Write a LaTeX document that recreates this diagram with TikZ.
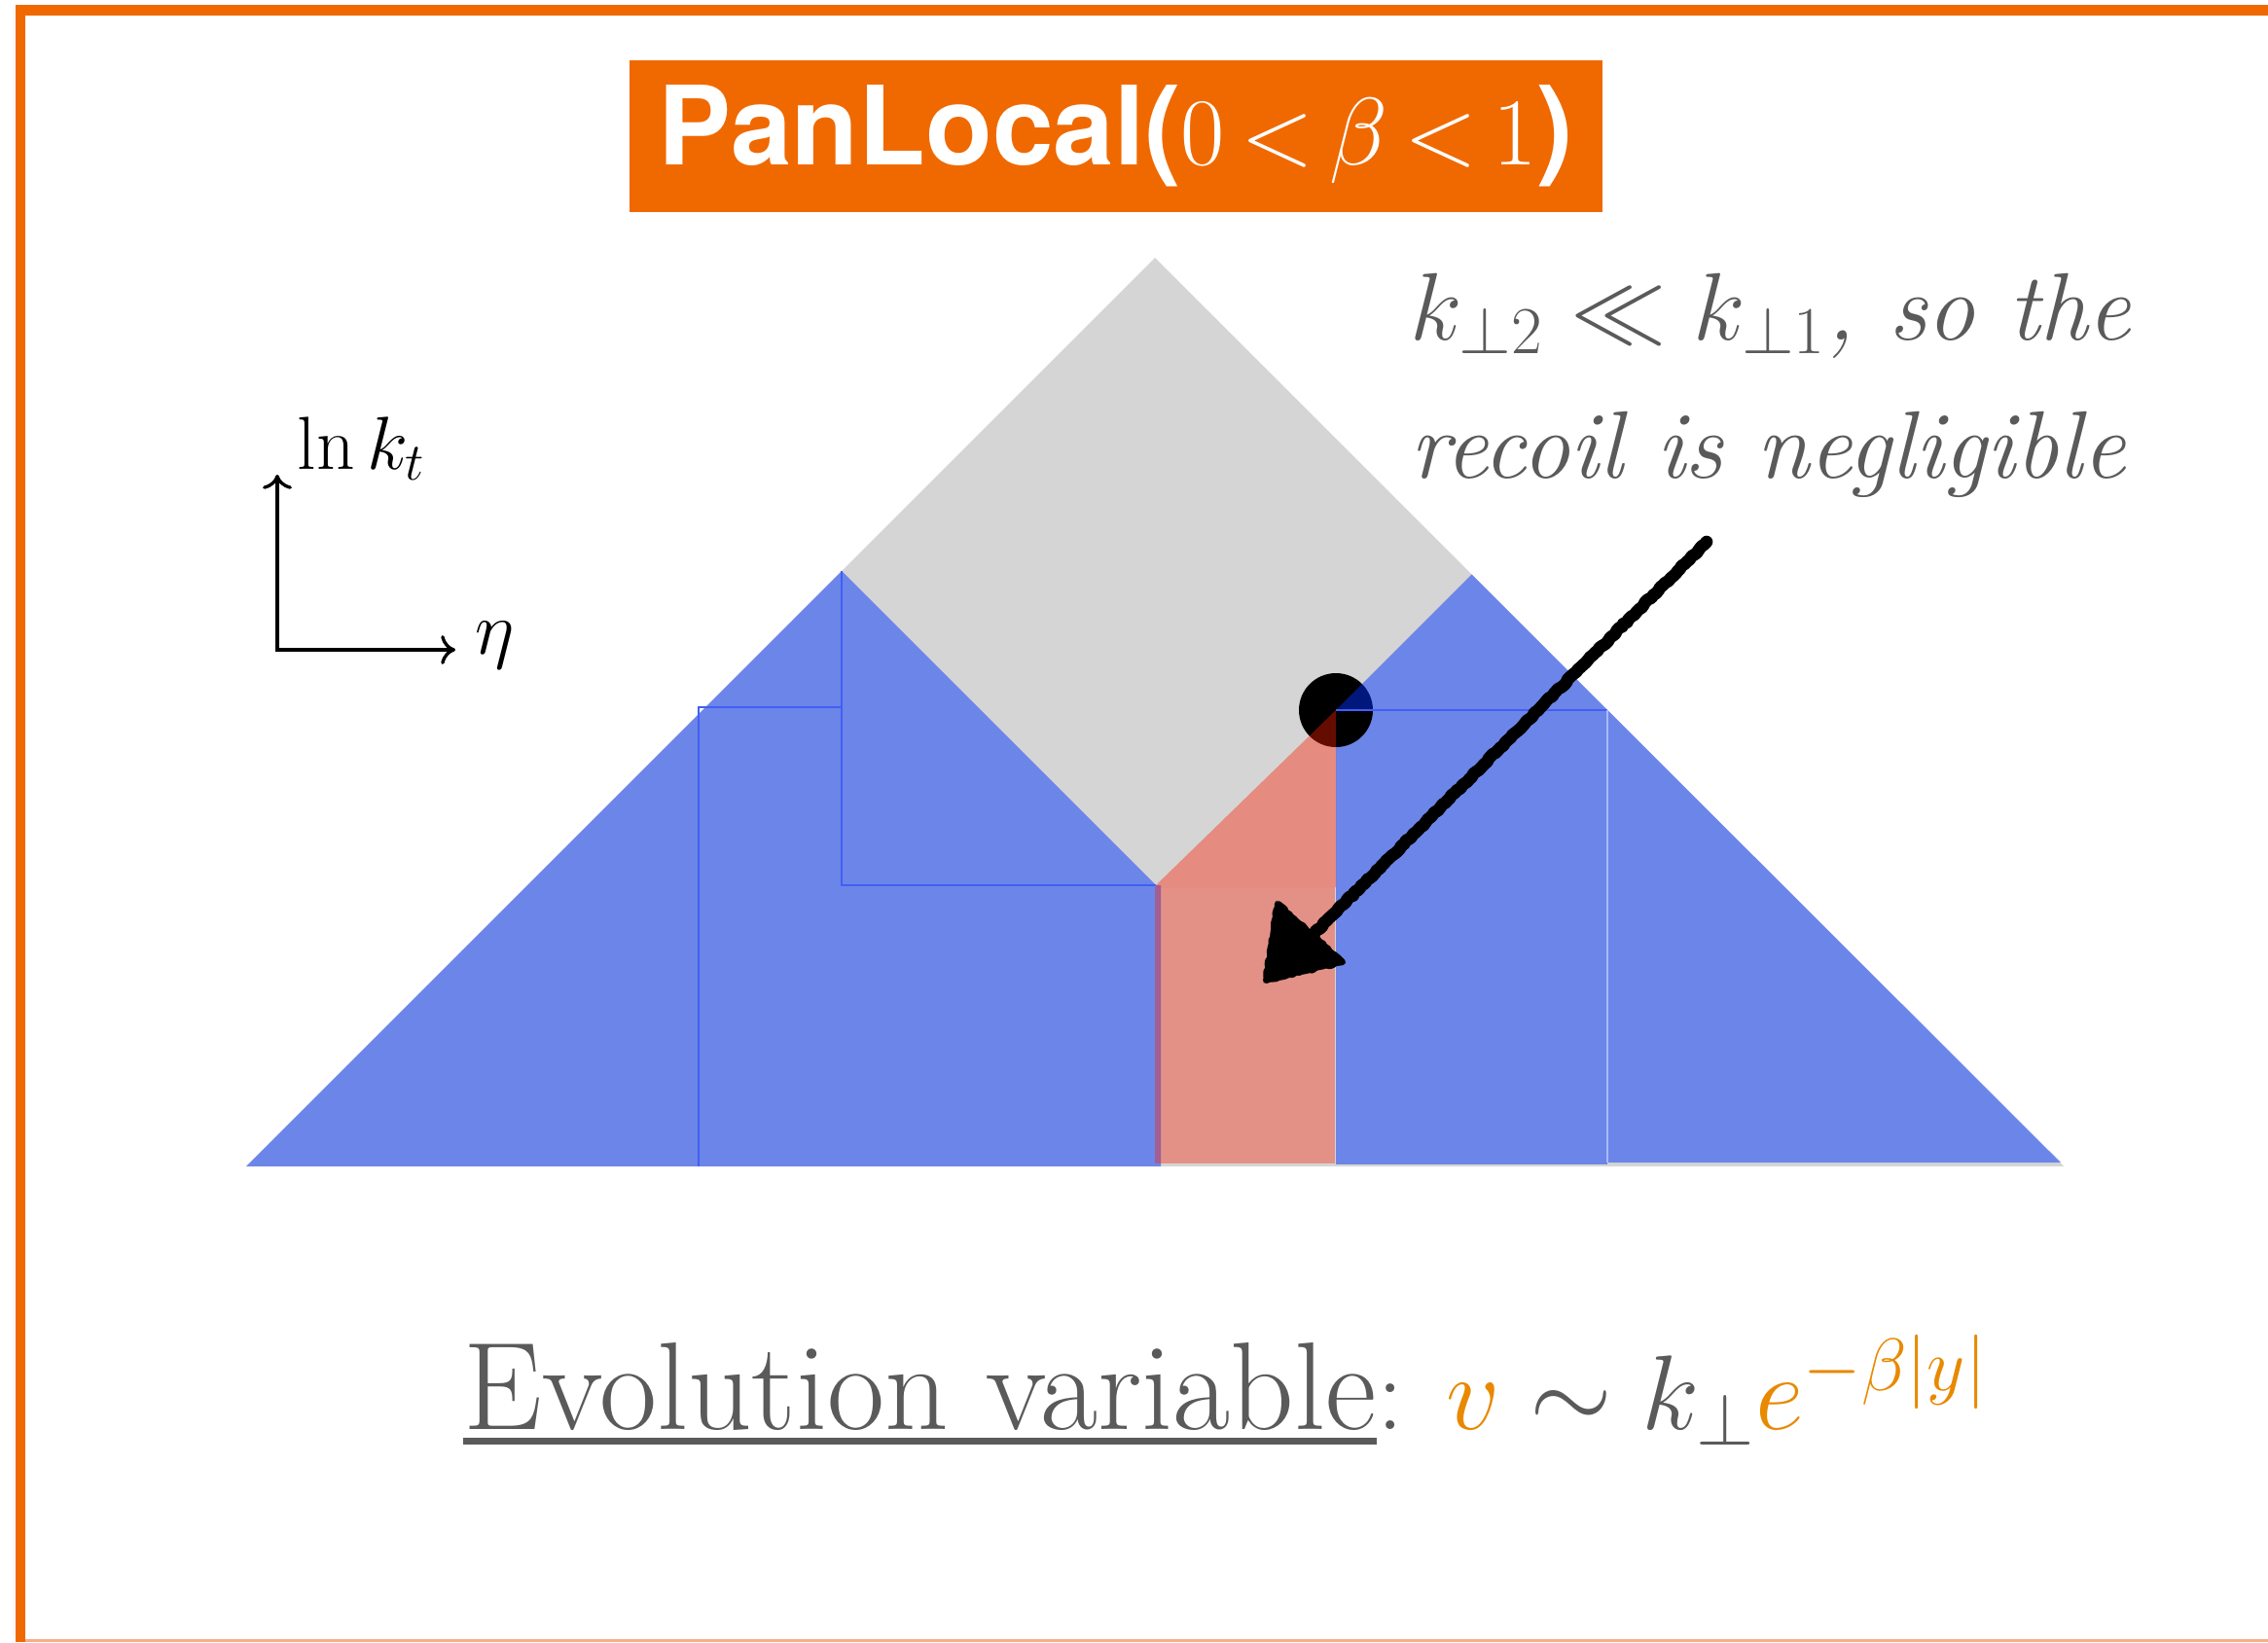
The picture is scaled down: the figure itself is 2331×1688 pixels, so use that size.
\documentclass[tikz,border=0pt]{standalone}
\usepackage{fix-cm}
\usepackage{fontspec}
\usetikzlibrary{arrows.meta,decorations.pathmorphing}
\newfontfamily\titlefont{TeX Gyre Heros}
\definecolor{panorange}{RGB}{240,105,0}
\definecolor{framelight}{RGB}{245,175,135}
\definecolor{regiongray}{RGB}{213,213,213}
\definecolor{regionblue}{RGB}{0,50,252}
\definecolor{regionred}{RGB}{253,30,0}
\definecolor{edgeblue}{RGB}{65,95,245}
\definecolor{edgelight}{RGB}{170,185,250}
\definecolor{textgray}{RGB}{90,90,90}
\definecolor{formulaorange}{RGB}{232,137,0}
\tikzset{
  blueregion/.style={fill=regionblue,fill opacity=0.49},
  redregion/.style={fill=regionred,fill opacity=0.40},
  innerline/.style={edgeblue,line width=0.45pt},
  axisline/.style={line width=0.95pt,
    {Computer Modern Rightarrow[length=4.2pt,width=8.5pt]}-{Computer Modern Rightarrow[length=4.2pt,width=8.5pt]}},
  roughline/.style={decorate,decoration={random steps,segment length=1pt,amplitude=0.25pt}},
  titlebox/.style={fill=panorange,text=white,minimum width=10cm,minimum height=1.56cm,inner sep=0pt,
    font=\fontsize{32}{36}\selectfont},
  notetext/.style={anchor=base west,inner sep=0pt,text=textgray,font=\fontsize{28}{34}\selectfont\itshape},
  evotext/.style={anchor=base west,inner sep=0pt,text=textgray,font=\fontsize{36.5}{42}\selectfont}
}

\begin{document}
\begin{tikzpicture}[x=0.01cm,y=-0.01cm]
            \useasboundingbox (0,0) rectangle (2331,1688);
            % frame
            \fill[panorange] (16,5) rectangle (26,1688);
            \fill[panorange] (16,5) rectangle (2331,16);
            \fill[framelight] (26,1685) rectangle (2331,1688);
            % corners of the regions
            \coordinate (L) at (253,1199);
            \coordinate (R) at (2121,1199);
            \coordinate (T) at (1187,265);
            \coordinate (P) at (1373,730);
            \coordinate (Q) at (1512.5,590.5);
            \coordinate (S) at (865,587);
            \coordinate (M) at (1188,910);
            \fill[regiongray] (L) -- (T) -- (R) -- cycle;
            \fill[blueregion] (P) rectangle (1652,1197);
            \fill[black] (P) circle[radius=38];
            \fill[blueregion] (L) -- (S) -- (M) -- (1193,910) -- (1193,1199) -- cycle;
            \fill[blueregion] (P) -- (Q) -- (2118,1195) -- (1652,1195) -- (1652,730) -- cycle;
            \fill[redregion] (M) -- (P) -- (1373,912) -- (1188,912) -- cycle;
            \fill[redregion,fill opacity=0.37] (1187,912) rectangle (1372,1196);
            \draw[innerline] (718,1199) -- (718,727) -- (S |- 0,727);
            \draw[innerline] (S) -- (S |- M) -- (M);
            \draw[innerline] (P) -- (1652,730);
            \draw[edgelight,line width=0.45pt] (1652,730) -- (1652,1195);
            % axes
            \coordinate (O) at (285,668);
            \coordinate (Y) at (285,488);
            \coordinate (X) at (468,668);
            \draw[axisline] (Y) -- (O) -- (X);
            \node[anchor=base west,inner sep=0pt,font=\fontsize{22}{26}\selectfont] (lnkt) at (305,482) {$\ln k_t$};
            \node[anchor=base west,inner sep=0pt,font=\fontsize{22}{26}\selectfont] (eta) at (488,672) {$\eta$};
            % hand drawn arrow
            \pgfmathsetseed{7}
            \coordinate (tail) at (1754,557);
            \coordinate (tip) at (1345,965);
            \draw[roughline,line width=3.6pt,line cap=round,line join=round] (tail) -- (tip);
            \draw[roughline,line width=1.2pt,line cap=round] ([shift={(-4,2)}]tail) -- ([shift={(-4,2)}]tip);
            \filldraw[roughline,line width=1.8pt,line join=round] (1313,929) -- (1301,1008) -- (1380,989) -- cycle;
            % texts
            \node[titlebox] (title) at (1147,140) {{\titlefont\bfseries PanLocal(}{\fontsize{28}{32}\selectfont\thickmuskip=3mu$0<\beta<1$}{\titlefont\bfseries )}};
            \node[notetext] (note) at (1449,349) {$k_{\perp 2}\ll k_{\perp 1}$, so the};
            \node[notetext] (notecont) at (1449,491) {recoil is negligible};
            \node[evotext] (evo) at (476,1469) {Evolution variable};
            \node[evotext,font=\fontsize{31}{36}\selectfont] (evoformula) at (evo.base east)
              {: $\textcolor{formulaorange}{v}\sim k_{\perp}\textcolor{formulaorange}{e^{-\beta|y|}}$};
            \draw[textgray,line width=2pt] ([yshift=-3.6pt]evo.base west) -- ([yshift=-3.6pt]evo.base east);
        \end{tikzpicture}
\end{document}
